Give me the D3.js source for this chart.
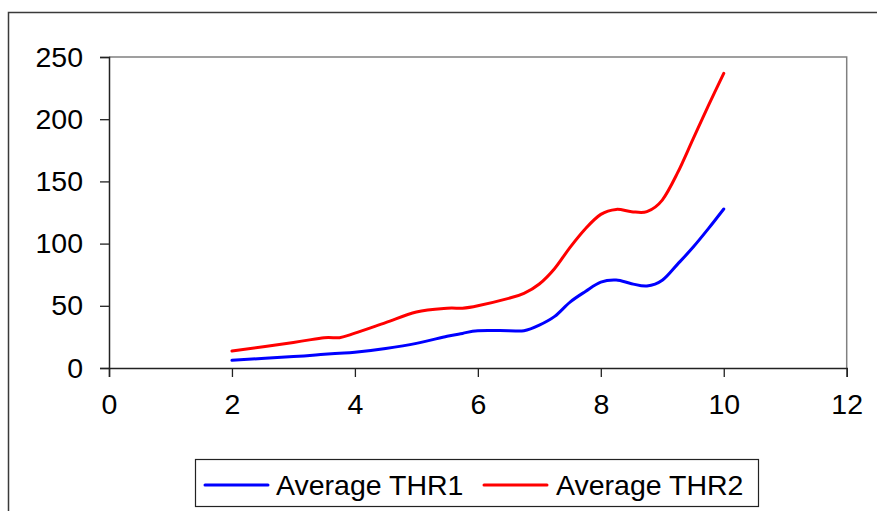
<!DOCTYPE html>
<html>
<head>
<meta charset="utf-8">
<script src="https://cdn.jsdelivr.net/npm/d3@7"></script>
<style>
  html, body { margin: 0; padding: 0; background: #fff; }
  svg { display: block; }
  text { font-family: Arial, "Liberation Sans", sans-serif; fill: #000; }
</style>
</head>
<body>
<svg id="chart" width="877" height="511"></svg>
<script>
// Measurement points (x) shared by both series
const xValues = [2, 3, 3.5, 3.75, 4, 4.5, 5, 5.5, 5.75, 6, 6.5, 6.75, 7, 7.25, 7.5, 7.75, 8, 8.25, 8.5, 8.75, 9, 9.25, 9.5, 9.75, 10];
const thr1 = [6.2, 9.2, 11, 11.8, 12.6, 15.7, 19.8, 25.5, 27.8, 30, 30, 30, 34.5, 41.5, 53, 61.5, 69, 70.7, 67.8, 65.9, 70.5, 83.5, 97, 112, 127.8];
const thr2 = [13.7, 20.5, 24.4, 24.4, 28, 36.5, 45, 48, 48, 50, 56, 60, 67.5, 80, 97, 112, 123.5, 127.5, 125.7, 125.7, 135, 157, 184, 211, 236.9];
const seriesNames = ["Average THR1", "Average THR2"];
const seriesColors = ["#0000ff", "#ff0000"];
const xTicks = [0, 2, 4, 6, 8, 10, 12];
const yTicks = [0, 50, 100, 150, 200, 250];

const svg = d3.select("#chart");
const plot = { left: 109, top: 57, right: 846.7, bottom: 368 };

const x = d3.scaleLinear().domain([0, 12]).range([plot.left, plot.right]);
const y = d3.scaleLinear().domain([0, 250]).range([plot.bottom, plot.top]);

// Outer chart border
svg.append("rect")
  .attr("x", 8.5).attr("y", 12.5)
  .attr("width", 1000).attr("height", 700)
  .attr("fill", "none").attr("stroke", "#3a3a3a").attr("stroke-width", 1.5);

// Plot area frame (top and right edges)
svg.append("path")
  .attr("d", `M${plot.left},${plot.top}H${plot.right}V${plot.bottom}`)
  .attr("fill", "none").attr("stroke", "#808080").attr("stroke-width", 1.5);

// Axes
const xAxis = svg.append("g")
  .attr("transform", `translate(0,${plot.bottom})`)
  .call(d3.axisBottom(x).tickValues(xTicks).tickSize(9).tickPadding(17).tickFormat(d3.format("d")));
const yAxis = svg.append("g")
  .attr("transform", `translate(${plot.left},0)`)
  .call(d3.axisLeft(y).tickValues(yTicks).tickSize(9).tickPadding(17).tickFormat(d3.format("d")));

[xAxis, yAxis].forEach(g => {
  g.select(".domain").attr("stroke", "#222").attr("stroke-width", 1.5);
  g.selectAll(".tick line").attr("stroke", "#222").attr("stroke-width", 1.3);
  g.selectAll(".tick text")
    .attr("font-size", 28.5)
    .attr("font-family", "Arial, 'Liberation Sans', sans-serif")
    .attr("fill", "#000");
});

// Series lines
const line = d3.line()
  .x(d => x(d[0]))
  .y(d => y(d[1]))
  .curve(d3.curveCardinal.tension(0));

[thr1, thr2].forEach((vals, i) => {
  svg.append("path")
    .datum(xValues.map((xv, j) => [xv, vals[j]]))
    .attr("d", line)
    .attr("fill", "none")
    .attr("stroke", seriesColors[i])
    .attr("stroke-width", 3)
    .attr("stroke-linejoin", "round")
    .attr("stroke-linecap", "round");
});

// Legend
const legend = svg.append("g");
legend.append("rect")
  .attr("x", 195.5).attr("y", 459.5)
  .attr("width", 563).attr("height", 47)
  .attr("fill", "#fff").attr("stroke", "#222").attr("stroke-width", 1.2);

const legendItems = [
  { lx: 205, tx: 276 },
  { lx: 484, tx: 556 }
];
legendItems.forEach((it, i) => {
  legend.append("line")
    .attr("x1", it.lx).attr("x2", it.lx + 63)
    .attr("y1", 485).attr("y2", 485)
    .attr("stroke", seriesColors[i]).attr("stroke-width", 3)
    .attr("stroke-linecap", "round");
  legend.append("text")
    .attr("x", it.tx).attr("y", 495)
    .attr("font-size", 28.5)
    .text(seriesNames[i]);
});
</script>
</body>
</html>
